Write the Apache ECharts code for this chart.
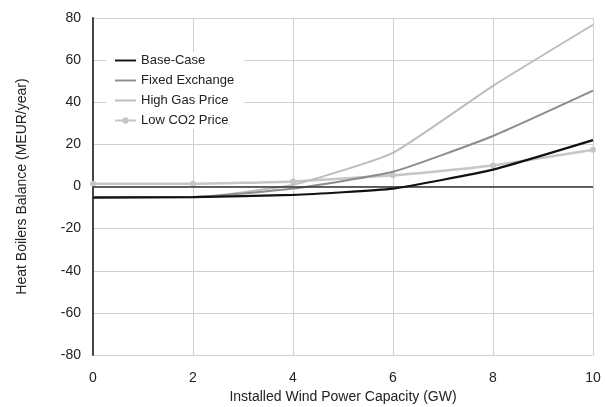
<!DOCTYPE html>
<html><head><meta charset="utf-8">
<script src="https://cdn.jsdelivr.net/npm/echarts@6/dist/echarts.min.js"></script>
<style>html,body{margin:0;padding:0;background:#fff}#c{width:605px;height:407px}</style>
</head><body><div id="c"></div>
<script>
const xValues = [0, 2, 4, 6, 8, 10];
const baseCase = [-5.3, -5, -4, -1, 8, 22];
const fixedExchange = [-5, -5, -1, 7, 24, 45.5];
const highGasPrice = [-5, -5, 0.8, 16, 47.8, 76.8];
const lowCO2Price = [1.3, 1.3, 2.4, 5.3, 10, 17.4];
const seriesNames = ['Base-Case', 'Fixed Exchange', 'High Gas Price', 'Low CO2 Price'];

const pair = arr => xValues.map((x, i) => [x, arr[i]]);
const font = 'Liberation Sans, Arial, sans-serif';
const lineIcon = 'path://M0,0M22,8M0,3H22V5H0Z';
const chart = echarts.init(document.getElementById('c'));
chart.setOption({
  backgroundColor: '#fff',
  animation: false,
  grid: { left: 93, right: 12, top: 18, bottom: 52, outerBoundsMode: 'none' },
  legend: {
    left: 106, top: 52, orient: 'vertical', itemGap: 7, itemWidth: 21, itemHeight: 8,
    backgroundColor: '#fff', padding: [2, 10, 2, 8],
    textStyle: { fontFamily: font, fontSize: 13, color: '#222' },
    data: [
      { name: seriesNames[0], icon: lineIcon },
      { name: seriesNames[1], icon: lineIcon },
      { name: seriesNames[2], icon: lineIcon },
      { name: seriesNames[3] }
    ]
  },
  xAxis: {
    type: 'value', min: 0, max: 10, interval: 2,
    axisLine: { show: false }, axisTick: { show: false },
    splitLine: { show: true, lineStyle: { color: '#cfcfcf', width: 1 } },
    axisLabel: { fontFamily: font, fontSize: 14, color: '#222', margin: 16 },
    name: 'Installed Wind Power Capacity (GW)', nameLocation: 'middle', nameGap: 35,
    nameTextStyle: { fontFamily: font, fontSize: 14, color: '#222' }
  },
  yAxis: {
    type: 'value', min: -80, max: 80, interval: 20,
    axisLine: { show: true, onZero: false, lineStyle: { color: '#444', width: 2 } },
    axisTick: { show: false },
    splitLine: { show: true, lineStyle: { color: '#cfcfcf', width: 1 } },
    axisLabel: { fontFamily: font, fontSize: 14, color: '#222', margin: 12 },
    name: 'Heat Boilers Balance (MEUR/year)', nameLocation: 'middle', nameGap: 64,
    nameTextStyle: { fontFamily: font, fontSize: 14, color: '#222' }
  },
  series: [
    { name: seriesNames[0], type: 'line', data: pair(baseCase), smooth: 0.15, showSymbol: false,
      symbol: 'none', lineStyle: { color: '#111', width: 2.2 }, itemStyle: { color: '#111' }, z: 5,
      markLine: { silent: true, symbol: 'none', label: { show: false },
        lineStyle: { color: '#333', width: 1.5, type: 'solid' }, data: [{ yAxis: 0 }] } },
    { name: seriesNames[1], type: 'line', data: pair(fixedExchange), smooth: 0.15, showSymbol: false,
      symbol: 'none', lineStyle: { color: '#8c8c8c', width: 2 }, itemStyle: { color: '#8c8c8c' }, z: 4 },
    { name: seriesNames[2], type: 'line', data: pair(highGasPrice), smooth: 0.15, showSymbol: false,
      symbol: 'none', lineStyle: { color: '#bdbdbd', width: 2 }, itemStyle: { color: '#bdbdbd' }, z: 3 },
    { name: seriesNames[3], type: 'line', data: pair(lowCO2Price), smooth: 0.15,
      symbol: 'circle', symbolSize: 6, lineStyle: { color: '#c6c6c6', width: 2.5 },
      itemStyle: { color: '#c6c6c6' }, z: 2 }
  ]
});
</script></body></html>
